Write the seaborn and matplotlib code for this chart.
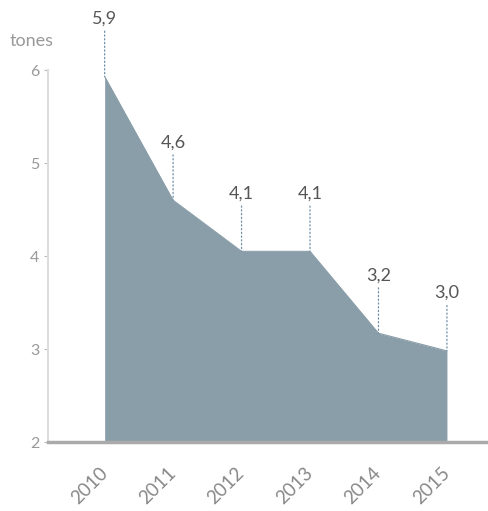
import matplotlib
matplotlib.use("Agg")
import matplotlib.pyplot as plt
import matplotlib.transforms as mtransforms
import seaborn as sns
import pandas as pd

# values
years = [2010, 2011, 2012, 2013, 2014, 2015]
tonnes = [5.93, 4.6, 4.05, 4.05, 3.17, 2.98]
value_labels = ["5,9", "4,6", "4,1", "4,1", "3,2", "3,0"]
y_ticks = [2, 3, 4, 5, 6]

df = pd.DataFrame({"year": years, "tonnes": tonnes, "label": value_labels})

sns.set_style("white")
plt.rcParams["font.family"] = ["Lato", "DejaVu Sans"]

fig = plt.figure(figsize=(4.88, 5.11), dpi=100)
ax = fig.add_axes([0.098, 0.135, 0.902, 0.728])

fill_col = "#8a9ea9"
sns.lineplot(data=df, x="year", y="tonnes", ax=ax, color=fill_col, linewidth=0.8)
ax.fill_between(df["year"], 2, df["tonnes"], color=fill_col, linewidth=0)

for _, r in df.iterrows():
    ax.annotate(r["label"], xy=(r["year"], r["tonnes"]), xytext=(0, 36),
                textcoords="offset points", ha="center", va="bottom",
                fontsize=13, color="#555555", annotation_clip=False,
                arrowprops=dict(arrowstyle="-", linestyle=(0, (1, 2)),
                                color="#6f8fa8", lw=0.9, shrinkA=1, shrinkB=0))

ax.set_xlim(2009.17, 2015.6)
ax.set_ylim(2, 6)
ax.set_xticks(years)
ax.set_xticklabels([str(y) for y in years], rotation=45, ha="right", va="center",
                   rotation_mode="anchor", fontsize=13.5, color="#888888")
shift = mtransforms.ScaledTranslation(15 / 100, 0, fig.dpi_scale_trans)
for lbl in ax.get_xticklabels():
    lbl.set_transform(lbl.get_transform() + shift)
ax.set_yticks(y_ticks)
ax.set_yticklabels([str(v) for v in y_ticks], fontsize=11.5, color="#999999")
ax.set_xlabel("")
ax.set_ylabel("")

for s in ["top", "right"]:
    ax.spines[s].set_visible(False)
ax.spines["left"].set_color("#dddddd")
ax.spines["left"].set_linewidth(1.5)
ax.spines["bottom"].set_color("#aaaaaa")
ax.spines["bottom"].set_linewidth(2.5)
ax.tick_params(axis="y", length=3, width=0.8, color="#bbbbbb", pad=3, left=True)
ax.tick_params(axis="x", length=0, pad=20)

fig.text(0.02, 0.91, "tones", fontsize=13, color="#999999")

fig.savefig("out.png", dpi=100)
